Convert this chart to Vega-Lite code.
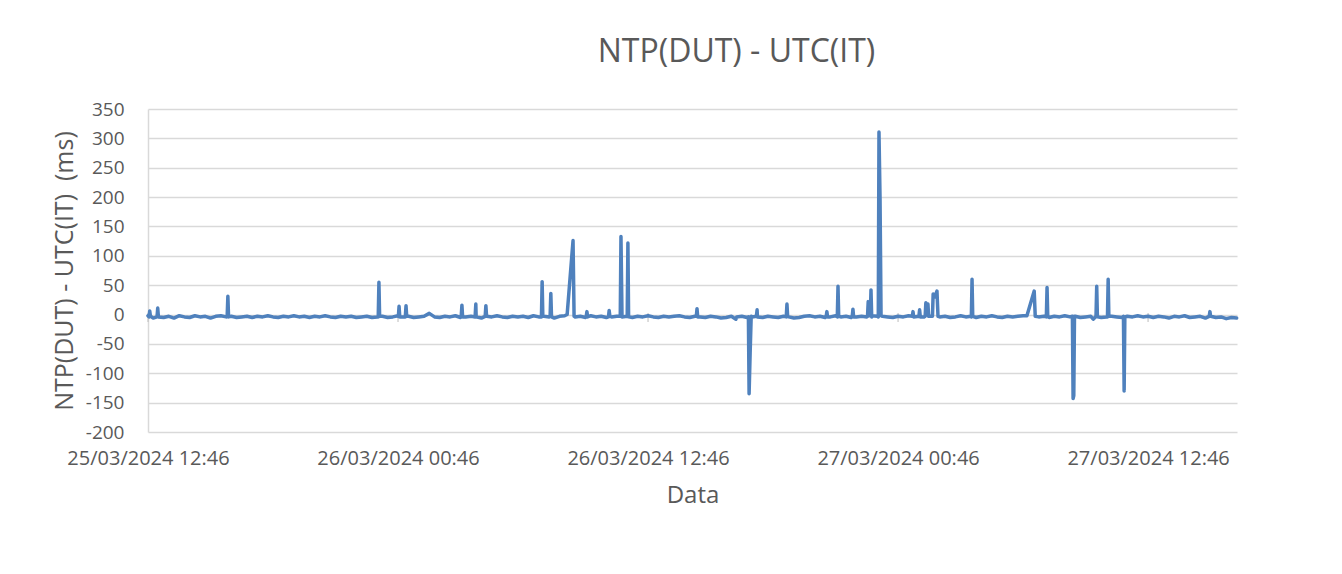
{
"$schema": "https://vega.github.io/schema/vega-lite/v6.json",
"width": 1089, "height": 323,
"autosize": {"type": "none"},
"padding": {"left": 148, "top": 109, "right": 105, "bottom": 142},
"background": "white",
"config": {"view": {"stroke": null}, "font": "Open Sans"},
"title": {"text": "NTP(DUT) - UTC(IT)", "fontSize": 32, "font": "Open Sans", "fontWeight": "normal", "color": "#595959", "dx": 44, "offset": 31},
"datasets": {
"ticks": [
{"Data": "2024-03-25T12:46", "v": 0}, {"Data": "2024-03-26T00:46", "v": 0}, {"Data": "2024-03-26T12:46", "v": 0}, {"Data": "2024-03-27T00:46", "v": 0}, {"Data": "2024-03-27T12:46", "v": 0}
],
"series": [
{"Data":"2024-03-25T12:46","v":-2},
{"Data":"2024-03-25T13:01","v":-6},{"Data":"2024-03-25T13:16","v":-4},{"Data":"2024-03-25T13:31","v":-5},{"Data":"2024-03-25T13:46","v":-3},
{"Data":"2024-03-25T14:01","v":-6},{"Data":"2024-03-25T14:16","v":-2},{"Data":"2024-03-25T14:31","v":-4},{"Data":"2024-03-25T14:46","v":-5},
{"Data":"2024-03-25T15:01","v":-2},{"Data":"2024-03-25T15:16","v":-4},{"Data":"2024-03-25T15:31","v":-3},{"Data":"2024-03-25T15:46","v":-6},
{"Data":"2024-03-25T16:01","v":-3},{"Data":"2024-03-25T16:16","v":-2},{"Data":"2024-03-25T16:31","v":-4},{"Data":"2024-03-25T16:46","v":-3},
{"Data":"2024-03-25T17:01","v":-5},{"Data":"2024-03-25T17:16","v":-4},{"Data":"2024-03-25T17:31","v":-3},{"Data":"2024-03-25T17:46","v":-5},
{"Data":"2024-03-25T18:01","v":-3},{"Data":"2024-03-25T18:16","v":-4},{"Data":"2024-03-25T18:31","v":-2},{"Data":"2024-03-25T18:46","v":-4},
{"Data":"2024-03-25T19:01","v":-5},{"Data":"2024-03-25T19:16","v":-3},{"Data":"2024-03-25T19:31","v":-4},{"Data":"2024-03-25T19:46","v":-2},
{"Data":"2024-03-25T20:01","v":-4},{"Data":"2024-03-25T20:16","v":-3},{"Data":"2024-03-25T20:31","v":-5},{"Data":"2024-03-25T20:46","v":-3},
{"Data":"2024-03-25T21:01","v":-4},{"Data":"2024-03-25T21:16","v":-2},{"Data":"2024-03-25T21:31","v":-4},{"Data":"2024-03-25T21:46","v":-5},
{"Data":"2024-03-25T22:01","v":-3},{"Data":"2024-03-25T22:16","v":-4},{"Data":"2024-03-25T22:31","v":-3},{"Data":"2024-03-25T22:46","v":-5},
{"Data":"2024-03-25T23:01","v":-4},{"Data":"2024-03-25T23:16","v":-3},{"Data":"2024-03-25T23:31","v":-5},{"Data":"2024-03-25T23:46","v":-4},
{"Data":"2024-03-26T00:01","v":-3},{"Data":"2024-03-26T00:16","v":-5},{"Data":"2024-03-26T00:31","v":-4},{"Data":"2024-03-26T00:46","v":-2},
{"Data":"2024-03-26T01:01","v":-4},{"Data":"2024-03-26T01:16","v":-3},{"Data":"2024-03-26T01:31","v":-5},{"Data":"2024-03-26T01:46","v":-4},
{"Data":"2024-03-26T02:01","v":-3},{"Data":"2024-03-26T02:16","v":2},{"Data":"2024-03-26T02:31","v":-4},{"Data":"2024-03-26T02:46","v":-5},
{"Data":"2024-03-26T03:01","v":-3},{"Data":"2024-03-26T03:16","v":-4},{"Data":"2024-03-26T03:31","v":-2},{"Data":"2024-03-26T03:46","v":-5},
{"Data":"2024-03-26T04:01","v":-4},{"Data":"2024-03-26T04:16","v":-3},{"Data":"2024-03-26T04:31","v":-4},{"Data":"2024-03-26T04:46","v":-6},
{"Data":"2024-03-26T05:01","v":-3},{"Data":"2024-03-26T05:16","v":-4},{"Data":"2024-03-26T05:31","v":-2},{"Data":"2024-03-26T05:46","v":-4},
{"Data":"2024-03-26T06:01","v":-5},{"Data":"2024-03-26T06:16","v":-3},{"Data":"2024-03-26T06:31","v":-4},{"Data":"2024-03-26T06:46","v":-3},
{"Data":"2024-03-26T07:01","v":-5},{"Data":"2024-03-26T07:16","v":-2},{"Data":"2024-03-26T07:31","v":-4},{"Data":"2024-03-26T07:46","v":-3},
{"Data":"2024-03-26T08:01","v":-4},{"Data":"2024-03-26T08:16","v":-6},{"Data":"2024-03-26T08:31","v":-3},{"Data":"2024-03-26T08:46","v":-2},
{"Data":"2024-03-26T09:16","v":-4},{"Data":"2024-03-26T09:31","v":-3},{"Data":"2024-03-26T09:46","v":-5},
{"Data":"2024-03-26T10:01","v":-2},{"Data":"2024-03-26T10:16","v":-4},{"Data":"2024-03-26T10:31","v":-3},{"Data":"2024-03-26T10:46","v":-5},
{"Data":"2024-03-26T11:01","v":-4},{"Data":"2024-03-26T11:16","v":-3},{"Data":"2024-03-26T11:31","v":-4},{"Data":"2024-03-26T11:46","v":-3},
{"Data":"2024-03-26T12:01","v":-5},{"Data":"2024-03-26T12:16","v":-3},{"Data":"2024-03-26T12:31","v":-4},{"Data":"2024-03-26T12:46","v":-2},
{"Data":"2024-03-26T13:01","v":-4},{"Data":"2024-03-26T13:16","v":-5},{"Data":"2024-03-26T13:31","v":-3},{"Data":"2024-03-26T13:46","v":-4},
{"Data":"2024-03-26T14:01","v":-3},{"Data":"2024-03-26T14:16","v":-2},{"Data":"2024-03-26T14:31","v":-4},{"Data":"2024-03-26T14:46","v":-5},
{"Data":"2024-03-26T15:01","v":-3},{"Data":"2024-03-26T15:16","v":-4},{"Data":"2024-03-26T15:31","v":-5},{"Data":"2024-03-26T15:46","v":-3},
{"Data":"2024-03-26T16:01","v":-4},{"Data":"2024-03-26T16:16","v":-6},{"Data":"2024-03-26T16:31","v":-5},{"Data":"2024-03-26T16:46","v":-3},
{"Data":"2024-03-26T17:01","v":-4},{"Data":"2024-03-26T17:16","v":-3},{"Data":"2024-03-26T17:31","v":-5},{"Data":"2024-03-26T17:46","v":-4},
{"Data":"2024-03-26T18:01","v":-4},{"Data":"2024-03-26T18:16","v":-5},{"Data":"2024-03-26T18:31","v":-3},{"Data":"2024-03-26T18:46","v":-4},
{"Data":"2024-03-26T19:01","v":-5},{"Data":"2024-03-26T19:16","v":-3},{"Data":"2024-03-26T19:31","v":-4},{"Data":"2024-03-26T19:46","v":-6},
{"Data":"2024-03-26T20:01","v":-5},{"Data":"2024-03-26T20:16","v":-3},{"Data":"2024-03-26T20:31","v":-2},{"Data":"2024-03-26T20:46","v":-4},
{"Data":"2024-03-26T21:01","v":-3},{"Data":"2024-03-26T21:16","v":-5},{"Data":"2024-03-26T21:31","v":-4},{"Data":"2024-03-26T21:46","v":-2},
{"Data":"2024-03-26T22:01","v":-4},{"Data":"2024-03-26T22:16","v":-3},{"Data":"2024-03-26T22:31","v":-5},{"Data":"2024-03-26T22:46","v":-4},
{"Data":"2024-03-26T23:01","v":-3},{"Data":"2024-03-26T23:16","v":-4},{"Data":"2024-03-26T23:31","v":-2},{"Data":"2024-03-26T23:46","v":-3},
{"Data":"2024-03-27T00:01","v":-3},{"Data":"2024-03-27T00:16","v":-4},{"Data":"2024-03-27T00:31","v":-5},{"Data":"2024-03-27T00:46","v":-3},
{"Data":"2024-03-27T01:01","v":-4},{"Data":"2024-03-27T01:16","v":-2},{"Data":"2024-03-27T01:31","v":-4},{"Data":"2024-03-27T01:46","v":-3},
{"Data":"2024-03-27T02:01","v":-4},{"Data":"2024-03-27T02:16","v":-3},{"Data":"2024-03-27T02:46","v":-4},
{"Data":"2024-03-27T03:01","v":-3},{"Data":"2024-03-27T03:16","v":-5},{"Data":"2024-03-27T03:31","v":-4},{"Data":"2024-03-27T03:46","v":-2},
{"Data":"2024-03-27T04:01","v":-4},{"Data":"2024-03-27T04:16","v":-3},{"Data":"2024-03-27T04:31","v":-5},{"Data":"2024-03-27T04:46","v":-3},
{"Data":"2024-03-27T05:01","v":-4},{"Data":"2024-03-27T05:16","v":-2},{"Data":"2024-03-27T05:31","v":-4},{"Data":"2024-03-27T05:46","v":-5},
{"Data":"2024-03-27T06:01","v":-3},{"Data":"2024-03-27T06:16","v":-4},{"Data":"2024-03-27T06:31","v":-3},{"Data":"2024-03-27T06:46","v":-2},
{"Data":"2024-03-27T07:31","v":-4},{"Data":"2024-03-27T07:46","v":-3},
{"Data":"2024-03-27T08:01","v":-5},{"Data":"2024-03-27T08:16","v":-3},{"Data":"2024-03-27T08:31","v":-4},{"Data":"2024-03-27T08:46","v":-2},
{"Data":"2024-03-27T09:01","v":-4},{"Data":"2024-03-27T09:16","v":-3},{"Data":"2024-03-27T09:31","v":-5},{"Data":"2024-03-27T09:46","v":-4},
{"Data":"2024-03-27T10:01","v":-3},{"Data":"2024-03-27T10:16","v":-3},{"Data":"2024-03-27T10:31","v":-5},{"Data":"2024-03-27T10:46","v":-4},
{"Data":"2024-03-27T11:01","v":-3},{"Data":"2024-03-27T11:16","v":-4},{"Data":"2024-03-27T11:31","v":-5},{"Data":"2024-03-27T11:46","v":-3},
{"Data":"2024-03-27T12:01","v":-4},{"Data":"2024-03-27T12:16","v":-2},{"Data":"2024-03-27T12:31","v":-4},{"Data":"2024-03-27T12:46","v":-3},
{"Data":"2024-03-27T13:01","v":-5},{"Data":"2024-03-27T13:16","v":-3},{"Data":"2024-03-27T13:31","v":-4},{"Data":"2024-03-27T13:46","v":-6},
{"Data":"2024-03-27T14:01","v":-3},{"Data":"2024-03-27T14:16","v":-4},{"Data":"2024-03-27T14:31","v":-2},{"Data":"2024-03-27T14:46","v":-5},
{"Data":"2024-03-27T15:01","v":-4},{"Data":"2024-03-27T15:16","v":-3},{"Data":"2024-03-27T15:31","v":-6},{"Data":"2024-03-27T15:46","v":-3},
{"Data":"2024-03-27T16:01","v":-5},{"Data":"2024-03-27T16:16","v":-4},{"Data":"2024-03-27T16:31","v":-7},{"Data":"2024-03-27T16:46","v":-5},
{"Data":"2024-03-27T17:01","v":-6},
{"Data":"2024-03-25T12:49","v":-4},{"Data":"2024-03-25T12:51","v":6},{"Data":"2024-03-25T12:53","v":-3},
{"Data":"2024-03-25T13:12","v":-4},{"Data":"2024-03-25T13:14","v":11},
{"Data":"2024-03-25T16:34","v":-3},{"Data":"2024-03-25T16:36","v":31},{"Data":"2024-03-25T16:38","v":-4},
{"Data":"2024-03-25T23:49","v":-4},{"Data":"2024-03-25T23:51","v":55},{"Data":"2024-03-25T23:53","v":-3},
{"Data":"2024-03-26T00:47","v":-3},{"Data":"2024-03-26T00:49","v":14},{"Data":"2024-03-26T00:51","v":-4},
{"Data":"2024-03-26T01:07","v":-4},{"Data":"2024-03-26T01:09","v":15},{"Data":"2024-03-26T01:11","v":-3},
{"Data":"2024-03-26T03:48","v":-3},{"Data":"2024-03-26T03:50","v":16},{"Data":"2024-03-26T03:52","v":-4},
{"Data":"2024-03-26T04:28","v":-4},{"Data":"2024-03-26T04:30","v":18},
{"Data":"2024-03-26T04:57","v":-3},{"Data":"2024-03-26T04:59","v":15},
{"Data":"2024-03-26T07:39","v":-4},{"Data":"2024-03-26T07:41","v":56},{"Data":"2024-03-26T07:43","v":-3},
{"Data":"2024-03-26T08:04","v":-3},{"Data":"2024-03-26T08:06","v":36},{"Data":"2024-03-26T08:08","v":-4},
{"Data":"2024-03-26T08:53","v":0},{"Data":"2024-03-26T09:10","v":126},{"Data":"2024-03-26T09:13","v":-3},
{"Data":"2024-03-26T09:48","v":-3},{"Data":"2024-03-26T09:50","v":5},{"Data":"2024-03-26T09:52","v":-4},
{"Data":"2024-03-26T10:52","v":-4},{"Data":"2024-03-26T10:54","v":7},{"Data":"2024-03-26T10:56","v":-3},
{"Data":"2024-03-26T11:26","v":-3},{"Data":"2024-03-26T11:28","v":133},
{"Data":"2024-03-26T11:48","v":122},{"Data":"2024-03-26T11:50","v":-4},
{"Data":"2024-03-26T15:05","v":-3},{"Data":"2024-03-26T15:07","v":10},{"Data":"2024-03-26T15:09","v":-4},
{"Data":"2024-03-26T16:59","v":-8},
{"Data":"2024-03-26T17:35","v":-4},{"Data":"2024-03-26T17:37","v":-135},{"Data":"2024-03-26T17:40","v":-65},{"Data":"2024-03-26T17:43","v":-3},
{"Data":"2024-03-26T17:58","v":-3},{"Data":"2024-03-26T18:00","v":8},
{"Data":"2024-03-26T19:24","v":-4},{"Data":"2024-03-26T19:26","v":18},{"Data":"2024-03-26T19:28","v":-3},
{"Data":"2024-03-26T21:19","v":-3},{"Data":"2024-03-26T21:21","v":5},{"Data":"2024-03-26T21:23","v":-4},
{"Data":"2024-03-26T21:51","v":-4},{"Data":"2024-03-26T21:53","v":48},{"Data":"2024-03-26T21:55","v":-3},
{"Data":"2024-03-26T22:34","v":-3},{"Data":"2024-03-26T22:36","v":9},{"Data":"2024-03-26T22:38","v":-4},
{"Data":"2024-03-26T23:18","v":-3},{"Data":"2024-03-26T23:20","v":22},{"Data":"2024-03-26T23:22","v":-2},{"Data":"2024-03-26T23:26","v":-2},{"Data":"2024-03-26T23:28","v":42},{"Data":"2024-03-26T23:30","v":-4},
{"Data":"2024-03-26T23:49","v":-4},{"Data":"2024-03-26T23:51","v":311},{"Data":"2024-03-26T23:54","v":200},{"Data":"2024-03-26T23:57","v":-2},
{"Data":"2024-03-27T01:27","v":-3},{"Data":"2024-03-27T01:29","v":5},
{"Data":"2024-03-27T01:48","v":8},{"Data":"2024-03-27T01:50","v":-4},
{"Data":"2024-03-27T02:04","v":-3},{"Data":"2024-03-27T02:06","v":20},{"Data":"2024-03-27T02:09","v":4},{"Data":"2024-03-27T02:12","v":18},{"Data":"2024-03-27T02:14","v":-3},
{"Data":"2024-03-27T02:25","v":-3},{"Data":"2024-03-27T02:27","v":35},{"Data":"2024-03-27T02:32","v":30},{"Data":"2024-03-27T02:38","v":40},{"Data":"2024-03-27T02:41","v":-3},
{"Data":"2024-03-27T04:17","v":-4},{"Data":"2024-03-27T04:19","v":60},{"Data":"2024-03-27T04:21","v":-3},
{"Data":"2024-03-27T06:57","v":-2},{"Data":"2024-03-27T07:18","v":40},{"Data":"2024-03-27T07:21","v":-3},
{"Data":"2024-03-27T07:53","v":-4},{"Data":"2024-03-27T07:55","v":46},{"Data":"2024-03-27T07:57","v":-3},
{"Data":"2024-03-27T09:08","v":-3},{"Data":"2024-03-27T09:10","v":-143},{"Data":"2024-03-27T09:12","v":-138},{"Data":"2024-03-27T09:14","v":-3},
{"Data":"2024-03-27T10:08","v":-8},
{"Data":"2024-03-27T10:18","v":48},{"Data":"2024-03-27T10:20","v":-4},
{"Data":"2024-03-27T10:49","v":-4},{"Data":"2024-03-27T10:51","v":60},{"Data":"2024-03-27T10:53","v":-3},
{"Data":"2024-03-27T11:35","v":-3},{"Data":"2024-03-27T11:37","v":-130},{"Data":"2024-03-27T11:39","v":-4},
{"Data":"2024-03-27T15:42","v":-3},{"Data":"2024-03-27T15:44","v":5}
]
},
"encoding": {
"x": {"field": "Data", "type": "temporal", "title": "Data",
"scale": {"domain": [{"year": 2024, "month": 3, "date": 25, "hours": 12, "minutes": 46}, {"year": 2024, "month": 3, "date": 27, "hours": 17, "minutes": 2}], "nice": false},
"axis": {"values": [{"year": 2024, "month": 3, "date": 25, "hours": 12, "minutes": 46}, {"year": 2024, "month": 3, "date": 26, "hours": 0, "minutes": 46}, {"year": 2024, "month": 3, "date": 26, "hours": 12, "minutes": 46}, {"year": 2024, "month": 3, "date": 27, "hours": 0, "minutes": 46}, {"year": 2024, "month": 3, "date": 27, "hours": 12, "minutes": 46}],
"format": "%d/%m/%Y %H:%M", "labelFont": "Open Sans", "labelFontSize": 20, "labelColor": "#595959", "labelPadding": 16, "ticks": false, "domain": false, "grid": false, "labelOverlap": false, "labelFlush": false, "labelBound": false,
"titleFont": "Open Sans", "titleFontSize": 24, "titleColor": "#595959", "titleFontWeight": "normal", "titlePadding": 15}},
"y": {"field": "v", "type": "quantitative", "title": "NTP(DUT) - UTC(IT) \u00a0(ms)",
"scale": {"domain": [-200, 350], "nice": false, "zero": false},
"axis": {"values": [-200, -150, -100, -50, 0, 50, 100, 150, 200, 250, 300, 350], "labelExpr": "datum.value + ''", "labelOverlap": false, "labelBound": false, "labelFont": "Open Sans", "labelFontSize": 19, "labelColor": "#595959", "labelPadding": 24, "ticks": false, "domain": true, "domainColor": "#d9d9d9", "domainWidth": 1.5, "grid": true, "gridColor": "#d9d9d9", "gridWidth": 1.5,
"titleFont": "Open Sans", "titleFontSize": 25, "titleColor": "#595959", "titleFontWeight": "normal", "titlePadding": 8}}
},
"layer": [
{
"data": {"name": "ticks"},
"mark": {"type": "tick", "orient": "vertical", "color": "#bfbfbf", "size": 9, "thickness": 1.5, "yOffset": 3}
},
{
"data": {"name": "series"},
"mark": {"type": "line", "color": "#4f81bd", "strokeWidth": 3.5, "strokeJoin": "round", "strokeCap": "round"}
}
]
}
